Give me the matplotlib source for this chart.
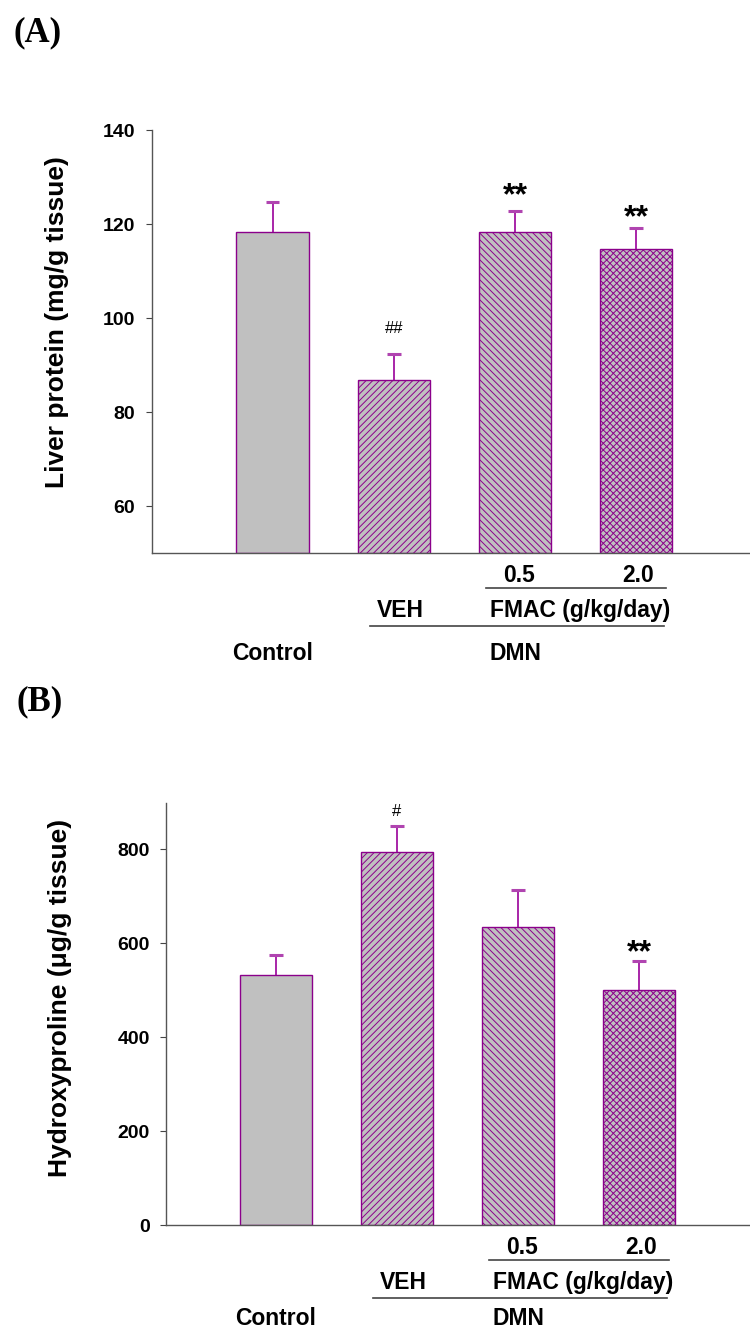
import matplotlib
matplotlib.use("Agg")
import matplotlib.pyplot as plt
import matplotlib.transforms as mtransforms

plt.rcParams['font.family'] = ['Liberation Sans', 'DejaVu Sans']
plt.rcParams['hatch.linewidth'] = 0.7

# 데이터
groups = ['Control', 'VEH', 'FMAC 0.5', 'FMAC 2.0']
protein_mean = [118.3, 86.9, 118.3, 114.7]
protein_err = [6.4, 5.4, 4.5, 4.5]
hyp_mean = [532, 795, 635, 501]
hyp_err = [44, 55, 79, 62]
protein_marks = ['', '##', '**', '**']
hyp_marks = ['', '#', '', '**']
protein_mark_y = [None, 96.9, 124.3, 119.6]
hyp_mark_y = [None, 872, None, 563]
protein_ticks = [60, 80, 100, 120, 140]
hyp_ticks = [0, 200, 400, 600, 800]

hatches = ['', '/////', '\\\\\\\\\\', 'xxxxx']
FILL = '#C0C0C0'
EDGE = '#8B008B'
W, H = 750, 1329


def draw_panel(ax, means, errs, marks, mark_y, ticks, ylim, xlim, ylabel, label_x, label_y, ctrl_off):
    x = [1, 2, 3, 4]
    for xi, m, h in zip(x, means, hatches):
        ax.bar(xi, m - ylim[0], bottom=ylim[0], width=0.6, color=FILL, edgecolor=EDGE,
               linewidth=1.0, hatch=h, zorder=2)
    # 위쪽 오차 막대만
    tops = [m + e for m, e in zip(means, errs)]
    ax.vlines(x, means, tops, color='#990099', lw=1.2, zorder=3)
    ax.hlines(tops, [xi - 0.055 for xi in x], [xi + 0.055 for xi in x],
              color='#B044B0', lw=2.2, zorder=3)
    for xi, t, ty in zip(x, marks, mark_y):
        if not t:
            continue
        if '*' in t:
            ax.text(xi, ty, t, ha='center', va='baseline', fontsize=23, fontweight='bold')
        else:
            ax.text(xi, ty, t, ha='center', va='baseline', fontsize=12)

    ax.set_xlim(*xlim)
    ax.set_ylim(*ylim)
    ax.set_yticks(ticks)
    ax.set_yticklabels([str(t) for t in ticks], fontsize=14, fontweight='bold')
    ax.set_xticks(x)
    ax.set_xticklabels([])
    ax.tick_params(axis='y', direction='out', length=4, width=0.8, pad=8, color='#444444')
    ax.tick_params(axis='x', direction='in', length=2, width=0.6, color='#888888')
    for s in ['top', 'right']:
        ax.spines[s].set_visible(False)
    for s in ['left', 'bottom']:
        ax.spines[s].set_color('#555555')
        ax.spines[s].set_linewidth(1.0)

    fig.text(label_x / W, 1 - label_y / H, ylabel, rotation=90, ha='center', va='center',
             fontsize=19, fontweight='bold')

    # 그룹 라벨 (x: 데이터, y: 축 아래 픽셀)
    hpx = ax.get_position().height * H
    tr = mtransforms.blended_transform_factory(ax.transData, ax.transAxes)

    def yy(px):
        return -px / hpx

    kw = dict(transform=tr, fontsize=16.5, fontweight='bold', va='center', clip_on=False)
    ax.text(3.03, yy(22), '0.5', ha='center', **kw)
    ax.text(4.02, yy(22), '2.0', ha='center', **kw)
    ax.plot([2.76, 4.25], [yy(35), yy(35)], color='#444444', lw=1.2, transform=tr, clip_on=False)
    ax.text(2.05, yy(57), 'VEH', ha='center', **kw)
    ax.text(2.79, yy(57), 'FMAC (g/kg/day)', ha='left', **kw)
    ax.plot([1.80, 4.23], [yy(73), yy(73)], color='#444444', lw=1.2, transform=tr, clip_on=False)
    ax.text(1.0, yy(ctrl_off), 'Control', ha='center', **kw)
    ax.text(2.79, yy(ctrl_off), 'DMN', ha='left', **kw)


fig = plt.figure(figsize=(7.5, 13.29), dpi=100)

axA = fig.add_axes([151.7 / W, 1 - 553.3 / H, (W - 151.7) / W, (553.3 - 130.3) / H])
draw_panel(axA, protein_mean, protein_err, protein_marks, protein_mark_y, protein_ticks,
           (50, 140), (0.0, 4.94), 'Liver protein (mg/g tissue)', 57, 322, 100)

axB = fig.add_axes([166.4 / W, 1 - 1225.3 / H, (W - 166.4) / W, (1225.3 - 802.5) / H])
draw_panel(axB, hyp_mean, hyp_err, hyp_marks, hyp_mark_y, hyp_ticks,
           (0, 900), (0.094, 4.917), 'Hydroxyproline (\u03bcg/g tissue)', 60, 998, 93)

fig.text(38 / W, 1 - 33 / H, '(A)', family=['Liberation Serif', 'DejaVu Serif'],
         fontsize=25, fontweight='bold', ha='center', va='center')
fig.text(40 / W, 1 - 702 / H, '(B)', family=['Liberation Serif', 'DejaVu Serif'],
         fontsize=25, fontweight='bold', ha='center', va='center')

fig.savefig('out.png', dpi=100)
plt.close(fig)
